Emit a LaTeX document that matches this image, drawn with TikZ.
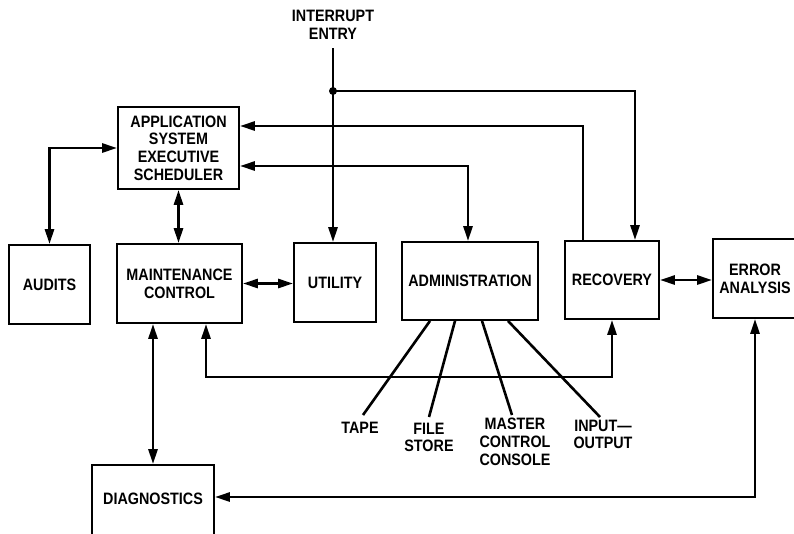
\documentclass[tikz,border=0pt]{standalone}
\usepackage{fontspec}
\setmainfont{Liberation Sans}[FakeStretch=0.87]
\usetikzlibrary{arrows.meta}
\begin{document}
\begin{tikzpicture}[x=1pt,y=-1pt,
  txt/.style={font=\fontsize{16.5pt}{17.7pt}\selectfont\bfseries,align=center},
  box/.style={txt,draw,line width=1.8pt,inner sep=0pt},
  lbl/.style={txt,inner sep=0pt},
  conn/.style={line width=2.6pt},
  >={Triangle[length=15pt,width=9pt]}]

\useasboundingbox (0,0) rectangle (794,533);
\fill[white] (0,0) rectangle (794,533);
\clip (0,0) rectangle (794,533);

% blocks
\node[box,minimum width=121pt,minimum height=82pt] (ases) at (178.5,148) {APPLICATION\\SYSTEM\\EXECUTIVE\\SCHEDULER};
\node[box,minimum width=81pt,minimum height=79pt] (audits) at (49.5,284.5) {AUDITS};
\node[box,minimum width=125pt,minimum height=79pt] (maint) at (179.5,283.5) {MAINTENANCE\\CONTROL};
\node[box,minimum width=82pt,minimum height=79pt] (util) at (335,282.5) {UTILITY};
\node[box,minimum width=136pt,minimum height=78pt] (admin) at (470,281) {ADMINISTRATION};
\node[box,minimum width=94pt,minimum height=78pt] (recov) at (612,280) {RECOVERY};
\node[box,minimum width=84pt,minimum height=79pt] (error) at (755,278.5) {ERROR\\ANALYSIS};
\node[box,minimum width=122pt,minimum height=80pt] (diag) at (153,505) {};
\node[lbl] (diagtxt) at (153,499) {DIAGNOSTICS};

% interrupt entry
\node[lbl] (intr) at (333,25) {INTERRUPT\\ENTRY};
\coordinate (intop) at (333,48);
\coordinate (junc) at (333,91);
\draw[conn,->] (intop) -- (intop |- util.north);
\fill (junc) circle (4pt);
\draw[conn,->] (junc) -| ([xshift=23pt]recov.north);

% links to the executive scheduler
\draw[conn,->] ([xshift=-29pt]recov.north) |- ([yshift=22pt]ases.east);
\draw[conn,<->] ([yshift=-18pt]ases.east) -| ([xshift=-2pt]admin.north);
\draw[conn,<->] (ases.south) -- (ases.south |- maint.north);
\draw[conn,<->] (audits.north) |- (ases.west);

% horizontal links
\draw[conn,<->] (maint.east) -- (maint.east -| util.west);
\draw[conn,<->] (recov.east) -- (recov.east -| error.west);

% lower links
\draw[conn,<->] ([xshift=26.5pt]maint.south) -- ++(0,53) -| (recov.south);
\draw[conn,<->] ([xshift=-26.5pt]maint.south) -- (diag.north);
\draw[conn,<->] ([yshift=8pt]diag.east) -| (error.south);

% administration peripherals
\node[lbl] (tape) at (360,428) {TAPE};
\node[lbl] (file) at (429,437.5) {FILE\\STORE};
\node[lbl] (mcc) at (515,442) {MASTER\\CONTROL\\CONSOLE};
\node[lbl] (io) at (603,434.5) {INPUT—\\OUTPUT};
\coordinate (tapeEnd) at (363,415);
\coordinate (fileEnd) at (429,417);
\coordinate (mccEnd) at (512,415);
\coordinate (ioEnd) at (600,417);
\draw[conn] ([xshift=-40pt]admin.south) -- (tapeEnd);
\draw[conn] ([xshift=-15pt]admin.south) -- (fileEnd);
\draw[conn] ([xshift=12pt]admin.south) -- (mccEnd);
\draw[conn] ([xshift=38pt]admin.south) -- (ioEnd);
\end{tikzpicture}
\end{document}
